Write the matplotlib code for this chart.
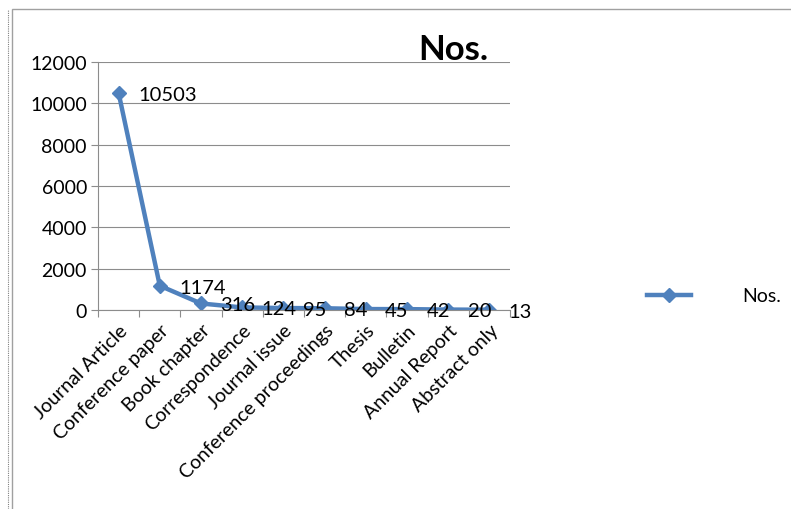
import matplotlib
matplotlib.use('Agg')
import matplotlib.pyplot as plt
from matplotlib.patches import Rectangle

categories = ['Journal Article', 'Conference paper', 'Book chapter',
              'Correspondence', 'Journal issue', 'Conference proceedings',
              'Thesis', 'Bulletin', 'Annual Report', 'Abstract only']
counts = [10503, 1174, 316, 124, 95, 84, 45, 42, 20, 13]
y_ticks = [0, 2000, 4000, 6000, 8000, 10000, 12000]

BLUE = '#4f81bd'
GRID = '#8c8c8c'
plt.rcParams['font.family'] = ['Lato', 'DejaVu Sans']

fig = plt.figure(figsize=(7.91, 5.10), dpi=100)
# outer chart border (solid) plus the dotted edge to its left
fig.add_artist(Rectangle((12 / 791, -0.01), 1.0, 1 - 10 / 510 + 0.01,
                         transform=fig.transFigure, fill=False,
                         ec='#a0a0a0', lw=1.0))
fig.add_artist(plt.Line2D([8 / 791, 8 / 791], [0, 1 - 10 / 510],
                          transform=fig.transFigure, color='#808080',
                          lw=0.8, ls=(0, (1, 1))))
ax = fig.add_axes([98 / 791, 1 - 311 / 510, 412 / 791, 248 / 510])

x = list(range(len(categories)))
ax.plot(x, counts, '-', color=BLUE, lw=3.2, marker='D', ms=7.5,
        mec=BLUE, mfc=BLUE, label='Nos.', solid_joinstyle='round')
for xi, v in zip(x, counts):
    ax.annotate(str(v), (xi, v), xytext=(14, -1), textcoords='offset points',
                ha='left', va='center', fontsize=14.5, color='black')

ax.set_xlim(-0.5, len(categories) - 0.5)
ax.set_ylim(0, 12000)
ax.set_yticks(y_ticks)
ax.set_yticklabels([str(t) for t in y_ticks], fontsize=14)
ax.yaxis.grid(True, color=GRID, lw=0.8)
ax.set_axisbelow(True)
ax.tick_params(axis='y', length=5, color=GRID, pad=3)

ax.set_xticks([i - 0.5 for i in range(len(categories) + 1)], minor=False)
ax.set_xticklabels([])
ax.set_xticks(x, minor=True)
ax.set_xticklabels(categories, minor=True, rotation=45, ha='right',
                   rotation_mode='anchor', fontsize=14)
ax.tick_params(axis='x', which='major', length=5, color=GRID)
ax.tick_params(axis='x', which='minor', length=0, pad=8)

for s in ('top', 'right'):
    ax.spines[s].set_visible(False)
for s in ('left', 'bottom'):
    ax.spines[s].set_color(GRID)

fig.text(453 / 791, 1 - 50 / 510, 'Nos.', fontsize=25, fontweight='bold',
         ha='center', va='center')
ax.legend(loc='center left', bbox_to_anchor=(629 / 791, 1 - 297 / 510),
          bbox_transform=fig.transFigure, frameon=False, fontsize=14,
          handlelength=2.3, handletextpad=2.6, borderpad=0.4)

fig.savefig('out.png', dpi=100)
